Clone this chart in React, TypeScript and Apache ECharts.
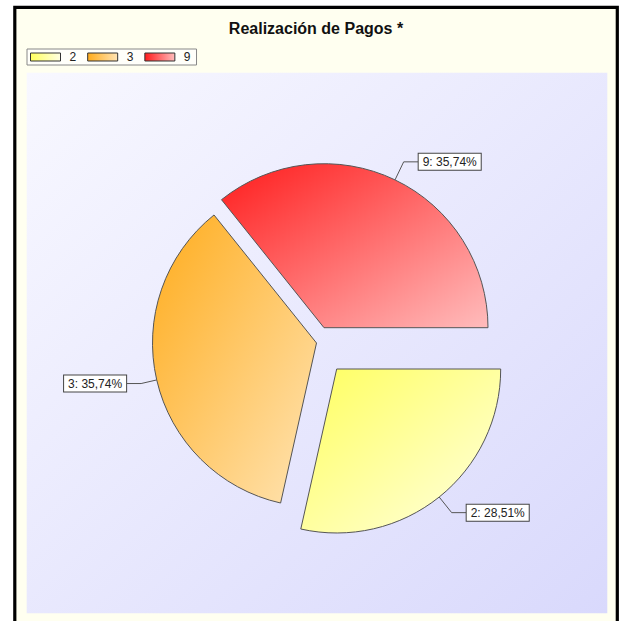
import React, { useEffect, useRef } from "react";
import * as echarts from "echarts";

const titleText = "Realización de Pagos *";
const categories = ["2", "3", "9"];
const shares = [28.51, 35.74, 35.74];
const colorsFrom = ["#ffff5e", "#ffac1c", "#ff1c1c"];
const colorsTo = ["#ffffe2", "#ffe4b4", "#ffbcbc"];
// apex of each exploded slice
const centers: [number, number][] = [
  [336.7, 369],
  [316.5, 343],
  [324, 327.7],
];
const lineLen = [20, 16, 20];

const FONT = "'Liberation Sans', Arial, sans-serif";

function grad(i: number, horizontal = false) {
  return new echarts.graphic.LinearGradient(0, 0, 1, horizontal ? 0 : 1, [
    { offset: 0, color: colorsFrom[i] },
    { offset: 1, color: colorsTo[i] },
  ]);
}

export default function App() {
  const ref = useRef<HTMLDivElement>(null);
  useEffect(() => {
    const chart = echarts.init(ref.current!, null, { renderer: "svg" });
    const series = categories.map((_, i) => ({
      type: "pie",
      center: centers[i],
      radius: 164,
      startAngle: 0,
      clockwise: true,
      avoidLabelOverlap: false,
      silent: true,
      z: 3,
      emphasis: { disabled: true },
      label: {
        show: true,
        position: "outside",
        distanceToLabelLine: 0,
        formatter: (p: any) => `${p.name}: ${Number(p.value).toFixed(2).replace(".", ",")}%`,
        backgroundColor: "#ffffff",
        borderColor: "#444",
        borderWidth: 1,
        padding: [1, 4, 1, 4],
        fontSize: 12,
        lineHeight: 14,
        fontFamily: FONT,
        color: "#222",
      },
      labelLine: {
        show: true,
        length: lineLen[i],
        length2: 15,
        lineStyle: { color: "#555", width: 1 },
      },
      data: categories.map((name, j) => ({
        name,
        value: shares[j],
        itemStyle:
          j === i
            ? { color: grad(j), borderColor: "#555", borderWidth: 1 }
            : { color: "rgba(0,0,0,0)", borderWidth: 0 },
        label: { show: j === i },
        labelLine: { show: j === i },
      })),
    }));

    chart.setOption({
      animation: false,
      backgroundColor: "#ffffff",
      title: {
        text: titleText,
        left: 311,
        textAlign: "center",
        top: 15,
        textStyle: { fontSize: 16, fontWeight: "bold", color: "#111", fontFamily: FONT },
      },
      legend: {
        left: 27,
        top: 49,
        orient: "horizontal",
        icon: "rect",
        itemWidth: 30,
        itemHeight: 8,
        itemGap: 11,
        padding: [2, 6, 2, 3],
        backgroundColor: "#fffffa",
        borderColor: "#888",
        borderWidth: 1,
        borderRadius: 0,
        selectedMode: false,
        textStyle: { fontSize: 12, lineHeight: 12, color: "#222", fontFamily: FONT, padding: [0, 0, 0, 4] },
        data: categories.map((name, i) => ({
          name,
          itemStyle: { color: grad(i, true), borderColor: "#333", borderWidth: 1 },
        })),
      },
      graphic: [
        {
          type: "rect",
          z: -10,
          silent: true,
          shape: { x: 14.8, y: 7.3, width: 602.5, height: 640 },
          style: { fill: "#fffff0", stroke: "#000", lineWidth: 3.2 },
        },
        {
          type: "rect",
          z: -9,
          silent: true,
          shape: { x: 26.7, y: 72.7, width: 580.6, height: 540.6 },
          style: {
            fill: new echarts.graphic.LinearGradient(0, 0, 1, 1, [
              { offset: 0, color: "#f8f8ff" },
              { offset: 1, color: "#d9d9fc" },
            ]),
          },
        },
      ],
      series,
    });
    return () => chart.dispose();
  }, []);
  return (
    <div
      ref={ref}
      style={{ position: "absolute", left: 0, top: 0, width: 620, height: 621 }}
    />
  );
}
